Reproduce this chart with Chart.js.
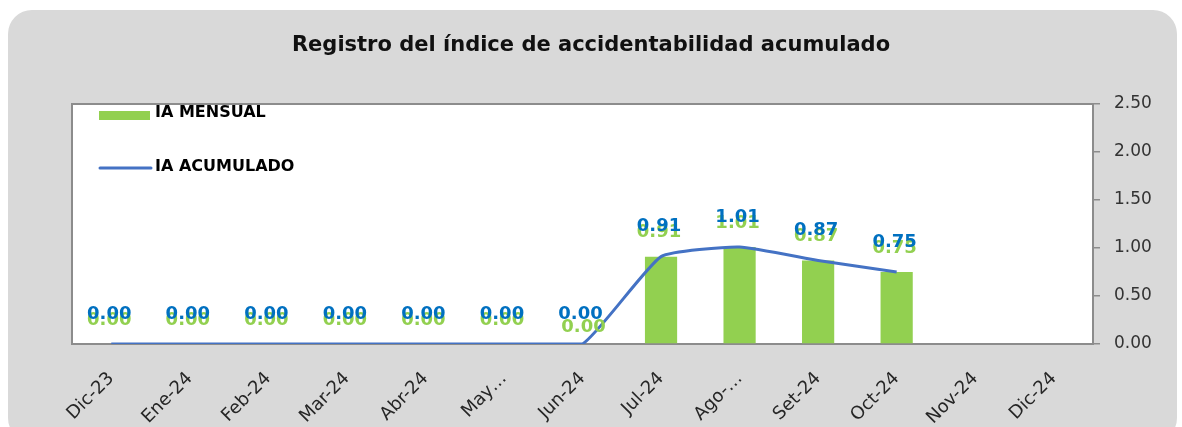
<!DOCTYPE html>
<html>
<head>
  <title>Registro IA</title>
  <script src="https://cdn.jsdelivr.net/npm/chart.js"></script>
  <style>
    body { margin: 0; background: #fff; width: 1182px; height: 427px; overflow: hidden; position: relative; }
    .panel {
      position: absolute; left: 8px; top: 10px;
      width: 1169px; height: 432px;
      background: #d9d9d9; border-radius: 24px;
    }
    #wrap { position: absolute; left: 0; top: 0; width: 1182px; height: 427px; }
  </style>
</head>
<body>

<div class="panel"></div>
<div id="wrap"><canvas id="iaChart"></canvas></div>

<script>
  const meses = ['Dic-23', 'Ene-24', 'Feb-24', 'Mar-24', 'Abr-24', 'May…', 'Jun-24',
                 'Jul-24', 'Ago-…', 'Set-24', 'Oct-24', 'Nov-24', 'Dic-24'];
  const iaMensual   = [0, 0, 0, 0, 0, 0, 0, 0.91, 1.01, 0.87, 0.75, null, null];
  const iaAcumulado = [0, 0, 0, 0, 0, 0, 0, 0.91, 1.01, 0.87, 0.75, null, null];
  const ejeY = [0, 0.5, 1, 1.5, 2, 2.5];
  const titulo = 'Registro del índice de accidentabilidad acumulado';

  const VERDE = '#92d050';
  const AZUL_LINEA = '#4472c4';
  const AZUL_TEXTO = '#0070c0';
  const GRIS = '#8c8c8c';
  const FUENTE = '"DejaVu Sans", sans-serif';

  // titulo centrado en todo el lienzo, fondo blanco y marco del area de trazado
  const marco = {
    id: 'marco',
    beforeDraw(chart) {
      const { ctx, chartArea: a, width } = chart;
      ctx.save();
      ctx.fillStyle = '#111';
      ctx.font = 'bold 21px ' + FUENTE;
      ctx.textAlign = 'center';
      ctx.textBaseline = 'middle';
      ctx.fillText(titulo, width / 2, 46);

      ctx.fillStyle = '#fff';
      ctx.fillRect(a.left, a.top, a.right - a.left, a.bottom - a.top);
      ctx.strokeStyle = GRIS;
      ctx.lineWidth = 2;
      ctx.beginPath();
      ctx.moveTo(a.right, a.top);
      ctx.lineTo(a.left, a.top);
      ctx.lineTo(a.left, a.bottom);
      ctx.stroke();
      ctx.restore();
    }
  };

  // etiquetas de valor: primero las verdes (barras), luego las azules (linea)
  const etiquetas = {
    id: 'etiquetas',
    afterDatasetsDraw(chart) {
      const ctx = chart.ctx;
      ctx.save();
      ctx.font = 'bold 18px ' + FUENTE;
      ctx.textAlign = 'center';
      ctx.textBaseline = 'middle';
      const pintar = (idx, color, dy) => {
        const ds = chart.data.datasets[idx];
        chart.getDatasetMeta(idx).data.forEach((el, i) => {
          const v = ds.data[i];
          if (v === null) return;
          let dx = 0, extra = 0;
          // la etiqueta de junio quedo desplazada hacia abajo
          if (idx === 0 && i === 6) { dx = 3; extra = 7; }
          ctx.fillStyle = color;
          ctx.fillText(v.toFixed(2), el.x + dx - 2, el.y - dy + extra);
        });
      };
      pintar(0, VERDE, 24);
      pintar(1, AZUL_TEXTO, 30);
      ctx.restore();
    }
  };

  // leyenda dentro del area de trazado, arriba a la izquierda
  const leyenda = {
    id: 'leyenda',
    afterDraw(chart) {
      const { ctx, chartArea: a } = chart;
      const ds = chart.data.datasets;
      ctx.save();
      ctx.beginPath();
      ctx.rect(a.left, a.top + 1, a.right - a.left, a.bottom - a.top);
      ctx.clip();
      const x0 = a.left + 27;
      ctx.fillStyle = VERDE;
      ctx.fillRect(x0, a.top + 7, 51, 9);
      ctx.strokeStyle = AZUL_LINEA;
      ctx.lineWidth = 3;
      ctx.lineCap = 'round';
      ctx.beginPath();
      ctx.moveTo(x0 + 1, a.top + 64);
      ctx.lineTo(x0 + 52, a.top + 64);
      ctx.stroke();
      ctx.fillStyle = '#000';
      ctx.font = 'bold 16px ' + FUENTE;
      ctx.textBaseline = 'middle';
      ctx.fillText(ds[0].label, x0 + 56, a.top + 9);
      ctx.fillText(ds[1].label, x0 + 56, a.top + 63);
      ctx.restore();
    }
  };

  new Chart(document.getElementById('iaChart'), {
    data: {
      labels: meses,
      datasets: [{
        type: 'bar',
        label: 'IA MENSUAL',
        data: iaMensual,
        backgroundColor: VERDE,
        categoryPercentage: 1,
        barPercentage: 0.41,
        order: 1
      }, {
        type: 'line',
        label: 'IA ACUMULADO',
        data: iaAcumulado,
        borderColor: AZUL_LINEA,
        borderWidth: 3,
        pointRadius: 0,
        tension: 0.15,
        order: 0
      }]
    },
    plugins: [marco, etiquetas, leyenda],
    options: {
      responsive: true,
      maintainAspectRatio: false,
      animation: false,
      layout: { padding: { left: 72, right: 20, top: 104, bottom: 0 } },
      plugins: {
        legend: { display: false },
        tooltip: { enabled: false },
        title: { display: false }
      },
      scales: {
        x: {
          grid: { display: false },
          border: { color: GRIS, width: 2 },
          ticks: {
            autoSkip: false,
            maxRotation: 45,
            minRotation: 45,
            padding: 16,
            color: '#262626',
            font: { family: FUENTE, size: 18 }
          },
          afterFit(s) { s.height = 83; }
        },
        y: {
          position: 'right',
          min: ejeY[0],
          max: ejeY[ejeY.length - 1],
          grid: { display: true, drawOnChartArea: false, color: GRIS, tickLength: 7, lineWidth: 1.5 },
          border: { color: GRIS, width: 2 },
          ticks: {
            stepSize: ejeY[1] - ejeY[0],
            padding: 14,
            color: '#333',
            font: { family: FUENTE, size: 17 },
            callback: v => Number(v).toFixed(2)
          },
          afterFit(s) { s.width = 69; }
        }
      }
    }
  });
</script>

</body>
</html>
